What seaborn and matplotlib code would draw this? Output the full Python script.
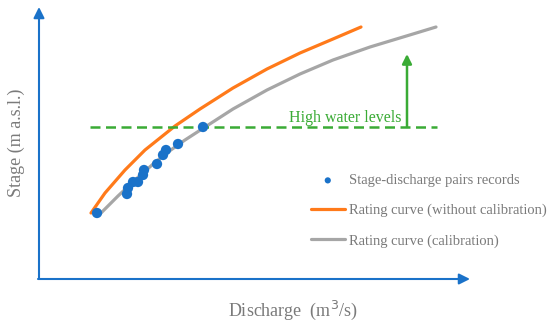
import numpy as np
import pandas as pd
import seaborn as sns
import matplotlib.pyplot as plt

# schematic units (no real scale on the axes)
obs_q = [59, 89, 90, 95, 100, 105, 106, 119, 125, 128, 140, 165]
obs_h = [66, 85, 91, 97, 97, 104, 109, 115, 124, 129, 135, 152]

raw_q = [53, 67, 87, 107, 137, 162, 195, 229, 262, 295, 323]
raw_h = [66, 86, 109, 129, 153, 170, 191, 210, 226, 240, 252]

cal_q = [62, 80, 97, 114, 130, 147, 164, 195, 229, 262, 295, 332, 375, 398]
cal_h = [65, 83, 99, 114, 127, 139, 150, 170, 189, 205, 219, 232, 245, 252]

high_level = 152
dash_q = [52, 399]
arrow_q = 369
arrow_top = 225

blue = '#1a72c9'
orange = '#ff7a1a'
grey = '#a6a6a6'
green = '#3aab35'
txt = '#7a7a7a'

sns.set_theme(style='white')
plt.rcParams['font.family'] = ['Liberation Serif', 'DejaVu Serif']

fig = plt.figure(figsize=(5.5, 3.26), dpi=100)
ax = fig.add_axes([0, 0, 1, 1])
ax.set_xlim(-38, 512)
ax.set_ylim(-47, 279)
ax.axis('off')

raw = pd.DataFrame({'q': raw_q, 'h': raw_h})
cal = pd.DataFrame({'q': cal_q, 'h': cal_h})
obs = pd.DataFrame({'q': obs_q, 'h': obs_h})

sns.lineplot(data=raw, x='q', y='h', color=orange, lw=2.3, sort=False, ax=ax,
             label='Rating curve (without calibration)')
sns.lineplot(data=cal, x='q', y='h', color=grey, lw=2.3, sort=False, ax=ax,
             label='Rating curve (calibration)')
sns.scatterplot(data=obs, x='q', y='h', color=blue, s=55, edgecolor='none',
                ax=ax, zorder=3, label='Stage-discharge pairs records')

# high water level line + arrow
ax.plot(dash_q, [high_level, high_level], color=green, lw=1.8,
        dashes=(4, 2.2))
ax.annotate('', xy=(arrow_q, arrow_top), xytext=(arrow_q, high_level),
            arrowprops=dict(arrowstyle='-|>', color=green, lw=1.8,
                            mutation_scale=14, shrinkA=0, shrinkB=0))
ax.text(251, 157, 'High water levels', color=green, fontsize=11.5,
        va='baseline', ha='left')

# axes drawn as arrows
ax.annotate('', xy=(1, 272), xytext=(1, 0),
            arrowprops=dict(arrowstyle='-|>', color=blue, lw=1.5,
                            mutation_scale=16, shrinkA=0, shrinkB=0))
ax.annotate('', xy=(432, 0), xytext=(0, 0),
            arrowprops=dict(arrowstyle='-|>', color=blue, lw=1.5,
                            mutation_scale=16, shrinkA=0, shrinkB=0))
ax.text(255, -31, 'Discharge  (m$^3$/s)', color=txt, fontsize=13,
        ha='center', va='center')
ax.text(-22, 136, 'Stage (m a.s.l.)', color=txt, fontsize=13,
        ha='center', va='center', rotation=90)

h, l = ax.get_legend_handles_labels()
order = [2, 0, 1]
leg = ax.legend([h[i] for i in order], [l[i] for i in order],
                loc='upper left', bbox_to_anchor=(311 / 550, 1 - 174 / 326),
                bbox_transform=fig.transFigure, frameon=False, fontsize=10.5,
                handlelength=2.3, handletextpad=0.3, labelspacing=1.15,
                borderpad=0, borderaxespad=0, markerscale=0.6)
for t in leg.get_texts():
    t.set_color(txt)

fig.savefig('out.png', dpi=100)
